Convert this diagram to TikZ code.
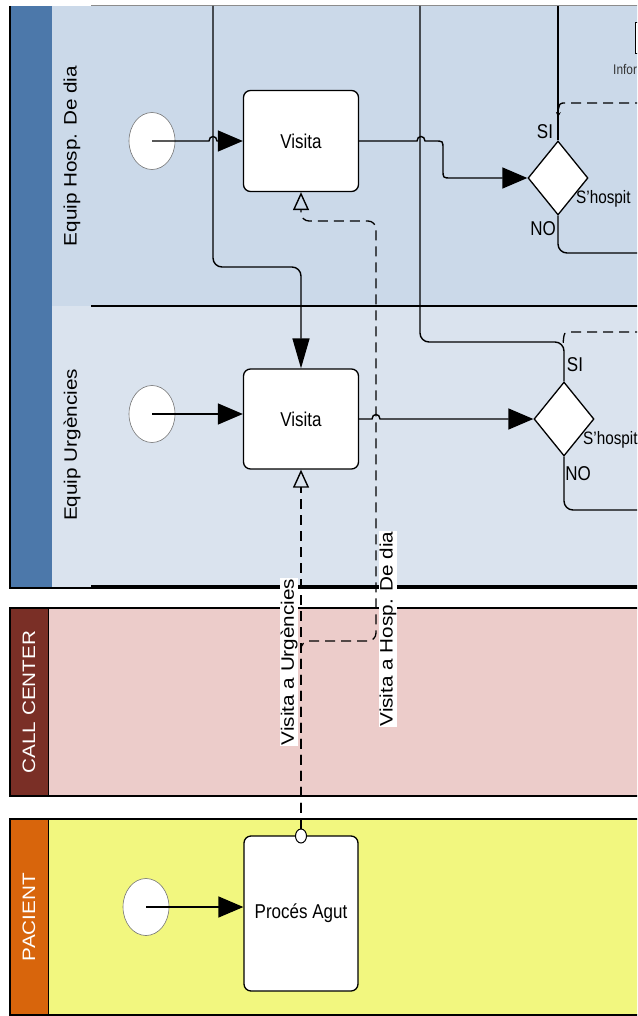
\documentclass[tikz,border=0pt]{standalone}
\usepackage{fontspec}
\setmainfont{Liberation Sans}
\newfontfamily\narrowf{Liberation Sans}[FakeStretch=0.85]
\newfontfamily\widef{Liberation Sans}[FakeStretch=1.15]
\usetikzlibrary{arrows.meta,shapes.geometric}
\definecolor{hdrblue}{RGB}{76,120,170}
\definecolor{laneA}{RGB}{203,217,233}
\definecolor{laneB}{RGB}{218,227,238}
\definecolor{cchdr}{RGB}{122,47,38}
\definecolor{ccbody}{RGB}{236,204,202}
\definecolor{pahdr}{RGB}{216,101,12}
\definecolor{pabody}{RGB}{242,247,127}
\tikzset{
 seq/.style={draw=black, line width=1.4pt},
 tipH/.style={-{Triangle[length=25pt,width=21pt]}},
 tipV/.style={-{Triangle[length=30pt,width=17pt]}},
 msg/.style={draw=black, line width=1.3pt, dash pattern=on 10pt off 6pt},
 msgtip/.style={-{Triangle[open,length=18pt,width=16pt,line width=1.4pt]}},
 startev/.style={ellipse, draw=black!55, fill=white, line width=0.6pt, minimum width=46pt, minimum height=57pt, inner sep=0pt},
 task/.style={rectangle, rounded corners=7pt, draw, line width=1.3pt, fill=white, font=\narrowf\fontsize{20}{22}\selectfont, inner sep=0pt},
 gate/.style={diamond, draw, line width=1.3pt, fill=white, inner sep=0pt, minimum width=60pt, minimum height=74pt},
 small/.style={font=\narrowf\fontsize{20}{22}\selectfont, inner sep=0pt},
 hosp/.style={font=\narrowf\fontsize{18}{20}\selectfont, inner sep=0pt, anchor=west},
 lanelbl/.style={rotate=90, font=\widef\fontsize{18}{20}\selectfont, inner sep=0pt},
 msglabel/.style={rotate=90, fill=white, font=\widef\fontsize{18}{21}\selectfont, inner sep=1pt},
}
\begin{document}
\begin{tikzpicture}[x=1pt,y=-1pt]
\useasboundingbox (0,0) rectangle (637,1016);
\clip (0,0) rectangle (637,1016);
% pool 1
\fill[laneA] (52,6) rectangle (640,306);
\fill[laneB] (52,306) rectangle (640,587);
\fill[hdrblue] (10,6) rectangle (52,587);
\draw[black!45, line width=1pt] (91,6) -- (640,6);
\draw[line width=1.2pt] (10,6) -- (10,588) -- (640,588);
\draw[line width=2.4pt] (91,306) -- (640,306);
\draw[line width=2pt] (91,586) -- (640,586);
% pool 2
\fill[ccbody] (48,608) rectangle (640,796);
\fill[cchdr] (10,608) rectangle (48,796);
\draw[line width=1.3pt] (10,608) rectangle (645,796);
\draw[line width=1pt] (48,608) -- (48,796);
% pool 3
\fill[pabody] (48,819) rectangle (640,1015);
\fill[pahdr] (10,819) rectangle (48,1015);
\draw[line width=1.3pt] (10,819) rectangle (645,1015);
\draw[line width=1pt] (48,819) -- (48,1015);
% lane labels
\node[lanelbl] (lbl1) at (72,156) {Equip Hosp. De dia};
\node[lanelbl] (lbl2) at (72,445) {Equip Urgències};
\node[lanelbl, text=white] (lbl3) at (29,702) {CALL CENTER};
\node[lanelbl, text=white] (lbl4) at (29,917) {PACIENT};
% document object
\node[draw, fill=white, line width=0.8pt, minimum width=26pt, minimum height=31pt, anchor=north west, inner sep=0pt] (doc) at (635,22) {};
\node[font=\narrowf\fontsize{14}{15}\selectfont, anchor=west, inner sep=0pt, text=black!80] (doclbl) at (613,70) {Infor};
% nodes
\node[startev] (s1) at (152,141) {};
\node[task, minimum width=115pt, minimum height=101pt] (v1) at (301,141) {Visita};
\node[gate] (d1) at (558,178) {};
\node[startev] (s2) at (152,414) {};
\node[task, minimum width=115pt, minimum height=100pt] (v2) at (301,419) {Visita};
\node[gate] (d2) at (564,419) {};
\node[startev] (s3) at (146,907) {};
\node[task, minimum width=114pt, minimum height=155pt] (pa) at (301,913.5) {Procés Agut};
\node[ellipse, draw, fill=white, line width=1pt, minimum width=11pt, minimum height=14pt, inner sep=0pt] (mc) at (301,836) {};
% gateway labels
\node[small] (si1) at (545,132) {SI};
\node[small] (no1) at (543,229) {NO};
\node[hosp] (h1) at (576,199) {S’hospit};
\node[small] (si2) at (575,365) {SI};
\node[small] (no2) at (578,474) {NO};
\node[hosp] (h2) at (583,440) {S’hospit};
% coordinates
\coordinate (t1) at (213,6);
\coordinate (t2) at (420,6);
\coordinate (t3) at (558,6);
\coordinate (e1) at (645,253);
\coordinate (e2) at (645,510);
\coordinate (r1) at (645,103);
\coordinate (r2) at (645,332);
% sequence flows
\draw[seq,tipH] (s1.center) -- (209,141) .. controls (209,135) and (217,135) .. (217,141) -- (v1.west);
\draw[seq,tipH] (v1.east) -- (417,141) .. controls (417,135) and (425,135) .. (425,141) -- (435,141) .. controls (443,141) .. (443,149) -- (443,170) .. controls (443,178) .. (451,178) -- (d1.west);
\draw[seq,tipV,rounded corners=9pt] (t1) |- (301,267) -- (v2.north);
\draw[seq,rounded corners=9pt] (t2) |- (564,342) -- (d2.north);
\draw[seq] (d1.north) -- (t3);
\draw[seq,rounded corners=9pt] (d1.south) |- (e1);
\draw[seq,rounded corners=9pt] (d2.south) |- (e2);
\draw[seq,tipH] (s2.center) -- (s2.center -| v2.west);
\draw[seq,tipH] (v2.east) -- (372,419) .. controls (372,413) and (380,413) .. (380,419) -- (d2.west);
\draw[seq,tipH] (s3.center) -- (s3.center -| pa.west);
% dashed flows from the right
\draw[msg,-{Stealth[length=5pt,width=5pt]}] (r1) -- (566,103) .. controls (559,103) .. (558,117);
\draw[msg] (r2) -- (571,332) .. controls (564,332) .. (563,345);
% message flows
\draw[msg,msgtip] (mc.north) -- (v2.south);
\draw[msg,msgtip,rounded corners=8pt] (mc.north) -- (301,641) -- (376,641) -- (376,221) -- (301,221) -- (v1.south);
\node[msglabel] (lu) at (289,662) {Visita a Urgències};
\node[msglabel] (lh) at (388,629) {Visita a Hosp. De dia};
\end{tikzpicture}
\end{document}
